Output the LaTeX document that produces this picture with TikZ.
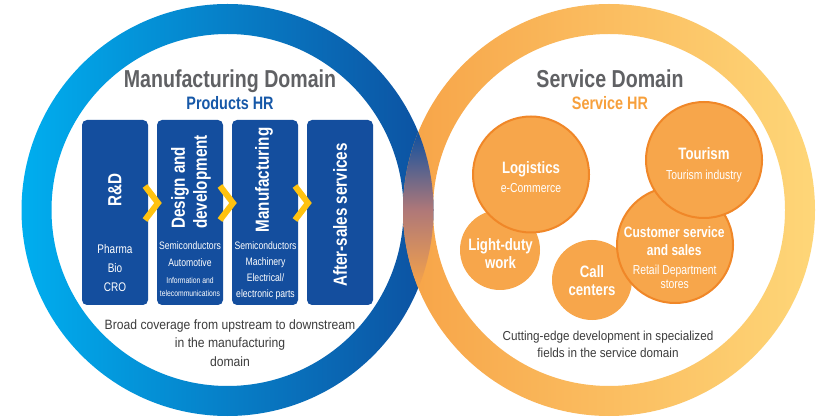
\documentclass[tikz,border=0pt]{standalone}
\usepackage{fontspec}
\setmainfont{Liberation Sans}[FakeStretch=0.8]
\newfontfamily\notefont{Liberation Sans}[FakeStretch=0.9]

\definecolor{cyanL}{RGB}{0,174,239}
\definecolor{blueR}{RGB}{13,80,160}
\definecolor{orangeL}{RGB}{247,164,72}
\definecolor{yellowR}{RGB}{254,214,120}
\definecolor{lensmid}{RGB}{175,120,120}
\definecolor{boxblue}{RGB}{20,78,158}
\definecolor{chevyellow}{RGB}{255,194,14}
\definecolor{headgray}{RGB}{96,97,100}
\definecolor{hrblue}{RGB}{22,88,168}
\definecolor{hrorange}{RGB}{247,160,60}
\definecolor{notegray}{RGB}{60,60,60}
\definecolor{bubblefill}{RGB}{247,166,75}
\definecolor{bubblerim}{RGB}{240,135,40}

\newcommand{\setsz}[2]{\fontsize{#1}{#2}\selectfont}

\begin{document}
\begin{tikzpicture}[x=1pt,y=-1pt,
  stagebox/.style={fill=boxblue, rounded corners=5pt, minimum width=66pt, minimum height=185pt, inner sep=0pt},
  stagetitle/.style={text=white, font=\bfseries\setsz{19}{22}, rotate=90, align=left, inner sep=0pt},
  stagenote/.style={text=white, align=center, anchor=north, inner sep=0pt},
  stagearrow/.style={draw=chevyellow, line width=6pt, miter limit=10},
  bubble/.style={circle, fill=bubblefill, inner sep=0pt, minimum size=80pt},
  rimbubble/.style={bubble, draw=bubblerim, line width=2pt, minimum size=116pt},
  bubbletitle/.style={text=white, font=\bfseries\setsz{16.5}{17.6}, align=center, inner sep=0pt},
  bubblenote/.style={text=white, font=\setsz{13}{14.3}, align=center, inner sep=0pt},
  heading/.style={font=\bfseries\setsz{24.5}{28}, text=headgray, anchor=base, inner sep=0pt},
  subheading/.style={font=\bfseries\setsz{18}{20}, anchor=base, inner sep=0pt},
  note/.style={font=\notefont\setsz{13.5}{18.5}, text=notegray, align=center, anchor=north, inner sep=0pt}]
\fill[white] (0,0) rectangle (821,419);
\useasboundingbox (0,0) rectangle (821,419);
\coordinate (mfgc) at (227.5,210);
\coordinate (svcc) at (609,210);
\shade[left color=cyanL, right color=blueR, even odd rule] (mfgc) circle (206) (mfgc) circle (176);
\shade[left color=orangeL, right color=yellowR, even odd rule] (svcc) circle (206) (svcc) circle (176);
% where the two rings cross
\begin{scope}
  \clip (mfgc) circle (206);
  \clip (svcc) circle (206);
  \shade[top color=blueR, bottom color=orangeL, middle color=lensmid] (395,132) rectangle (445,288);
\end{scope}

\node[heading] (mfg-h) at (230,88) {Manufacturing Domain};
\node[subheading, text=hrblue] (mfg-s) at (230,110) {Products HR};
\node[heading] (svc-h) at (610,88) {Service Domain};
\node[subheading, text=hrorange] (svc-s) at (610,110) {Service HR};

\node[stagebox] (rd) at (115,212.5) {};
\node[stagebox] (dsgn) at (190,212.5) {};
\node[stagebox] (mfg) at (265,212.5) {};
\node[stagebox] (after) at (340,212.5) {};
\node[stagetitle] (rd-t) at (115,190) {R\&D};
\node[stagetitle] (dsgn-t) at (191,182) {Design and\\development};
\node[stagetitle] (mfg-t) at (264,180) {Manufacturing};
\node[stagetitle] (after-t) at (340,215) {After-sales services};
\node[stagenote, font=\setsz{12.5}{19.3}] (rd-n) at (115,244) {Pharma\\Bio\\CRO};
\node[stagenote, font=\setsz{10.8}{17.2}] (dsgn-n) at (190,241.7) {Semiconductors\\Automotive};
\node[stagenote, font=\setsz{8.5}{13.7}] (dsgn-m) at (190,276.9) {Information and\\telecommunications};
\node[stagenote, font=\setsz{10.8}{15.8}] (mfg-n) at (265.5,241.7) {Semiconductors\\Machinery\\Electrical/\\electronic parts};
\draw[stagearrow] (145,186) -- (158,203) -- (145,220);
\draw[stagearrow] (220,186) -- (233,203) -- (220,220);
\draw[stagearrow] (295,186) -- (308,203) -- (295,220);

\node[bubble] (light) at (500,250) {};
\node[bubble] (call) at (592,280) {};
\node[rimbubble] (logi) at (531,174.5) {};
\node[rimbubble] (cust) at (675,245) {};
\node[rimbubble] (tour) at (704,160) {};
\node[bubbletitle, anchor=base] (logi-t) at (531,173.3) {Logistics};
\node[bubblenote, anchor=base] (logi-n) at (531,192.7) {e-Commerce};
\node[bubbletitle, anchor=base] (tour-t) at (704,160) {Tourism};
\node[bubblenote, anchor=base] (tour-n) at (704,179.3) {Tourism industry};
\node[bubbletitle, anchor=north] (light-t) at (500.5,238.8) {Light-duty\\work};
\node[bubbletitle, anchor=north] (call-t) at (592,265.4) {Call\\centers};
\node[bubbletitle, anchor=north, font=\bfseries\setsz{15}{18.4}] (cust-t) at (674.2,226.5) {Customer service\\and sales};
\node[bubblenote, anchor=north] (cust-n) at (674.7,264.6) {Retail Department\\stores};

\node[note] (mfg-b) at (230,319.3) {Broad coverage from upstream to downstream\\in the manufacturing\\domain};
\node[note, font=\notefont\setsz{13}{17.5}] (svc-b) at (608,330.6) {Cutting-edge development in specialized\\fields in the service domain};
\end{tikzpicture}
\end{document}
